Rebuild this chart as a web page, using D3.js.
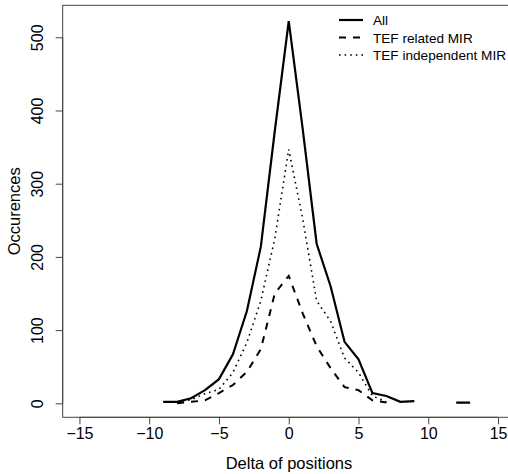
<!DOCTYPE html>
<html><head><meta charset="utf-8">
<script src="https://cdn.jsdelivr.net/npm/d3@7"></script>
<style>html,body{margin:0;padding:0;background:#fff;}svg{display:block;}</style>
</head><body>
<script>
const deltas = [-9,-8,-7,-6,-5,-4,-3,-2,-1,0,1,2,3,4,5,6,7,8,9,10,11,12,13];
const allValues = [2,2,7,18,33,67,126,214,372,522,375,218,160,84,60,14,10,2,3,null,null,1,1];
const relatedValues = [null,0,2,4,14,25,43,74,150,174,123,78,48,22,18,4,1,null,null,null,null,null,null];
const independentValues = [null,1,5,13,19,42,83,140,225,347,252,140,112,62,42,10,2,null,null,null,null,null,null];
const xTicks = [-15,-10,-5,0,5,10,15];
const yTicks = [0,100,200,300,400,500];
const seriesNames = ["All","TEF related MIR","TEF independent MIR"];

const W=508,H=474;
const mLeft=62.7, mTop=5.3, mBottom=417.3;
const x = d3.scaleLinear().domain([-16.2,16.2]).range([mLeft, mLeft+32.4*13.953]);
const y = d3.scaleLinear().domain([-19.1,543.7]).range([mBottom, mTop]);
const FONT = "'Liberation Sans', Arial, sans-serif";

const svg = d3.select("body").append("svg").attr("width",W).attr("height",H)
  .style("font-family",FONT);

svg.append("rect").attr("x",mLeft).attr("y",mTop).attr("width",x(16.2)-mLeft).attr("height",mBottom-mTop)
  .attr("fill","none").attr("stroke","#444").attr("stroke-width",1);

const fmt = v => v<0 ? "\u2212"+Math.abs(v) : String(v);

const xAxis = d3.axisBottom(x).tickValues(xTicks).tickSize(7).tickPadding(3).tickFormat(fmt);
const gx = svg.append("g").attr("transform",`translate(0,${mBottom})`).call(xAxis);
gx.select(".domain").attr("d",`M${x(-15)},0H${x(15)}`).attr("stroke","#444");
gx.selectAll(".tick line").attr("stroke","#444");
gx.selectAll("text").attr("font-size",16).attr("fill","#000").attr("font-family",FONT);

const yAxis = d3.axisLeft(y).tickValues(yTicks).tickSize(7).tickPadding(0);
const gy = svg.append("g").attr("transform",`translate(${mLeft},0)`).call(yAxis);
gy.select(".domain").attr("d",`M0,${y(0)}V${y(500)}`).attr("stroke","#444");
gy.selectAll(".tick line").attr("stroke","#444");
gy.selectAll("text").attr("font-size",16).attr("fill","#000").attr("font-family",FONT)
  .attr("text-anchor","middle").attr("x",0).attr("dy",0)
  .attr("transform","translate(-20,0) rotate(-90)");

svg.append("text").attr("x",289).attr("y",469)
  .attr("text-anchor","middle").attr("font-size",16.5).text("Delta of positions");
svg.append("text").attr("transform",`translate(20,${(mTop+mBottom)/2}) rotate(-90)`)
  .attr("text-anchor","middle").attr("font-size",16.5).text("Occurences");

const styles = [
  {vals:allValues, w:2.2, dash:null},
  {vals:relatedValues, w:2, dash:"7,7"},
  {vals:independentValues, w:1.6, dash:"1.6,4"}
];
const line = d3.line().defined(d=>d[1]!==null).x(d=>x(d[0])).y(d=>y(d[1]));
styles.forEach(s=>{
  svg.append("path").datum(deltas.map((d,i)=>[d,s.vals[i]]))
    .attr("d",line).attr("fill","none").attr("stroke","#000")
    .attr("stroke-width",s.w).attr("stroke-dasharray",s.dash);
});

const lg = svg.append("g");
seriesNames.forEach((n,i)=>{
  const yy = 20 + i*17.5;
  lg.append("line").attr("x1",339).attr("x2",363).attr("y1",yy).attr("y2",yy)
    .attr("stroke","#000").attr("stroke-width",styles[i].w).attr("stroke-dasharray",styles[i].dash);
  lg.append("text").attr("x",373).attr("y",yy+5).attr("font-size",13.6).text(n);
});
</script>
</body></html>
